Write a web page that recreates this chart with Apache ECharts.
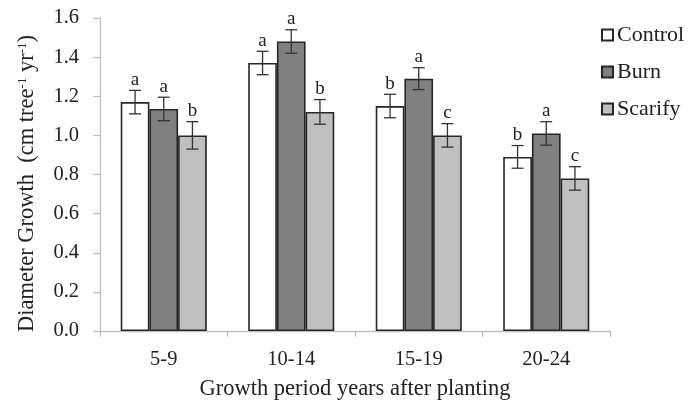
<!DOCTYPE html>
<html>
<head>
<meta charset="utf-8">
<script src="https://cdn.jsdelivr.net/npm/echarts@6/dist/echarts.min.js"></script>
<style>html,body{margin:0;padding:0;background:#fff;}#c{width:699px;height:402px;}</style>
</head>
<body>
<div id="c"></div>
<script>
const categories = ['5-9', '10-14', '15-19', '20-24'];
const treatments = ['Control', 'Burn', 'Scarify'];
const controlValues = [1.17, 1.37, 1.15, 0.89];
const burnValues = [1.135, 1.48, 1.29, 1.01];
const scarifyValues = [1.00, 1.12, 1.00, 0.78];
const controlErr = [0.06, 0.06, 0.06, 0.058];
const burnErr = [0.06, 0.06, 0.056, 0.06];
const scarifyErr = [0.07, 0.063, 0.06, 0.06];
const controlLetters = ['a', 'a', 'b', 'b'];
const burnLetters = ['a', 'a', 'a', 'a'];
const scarifyLetters = ['b', 'b', 'c', 'c'];
const yTicks = [0, 0.2, 0.4, 0.6, 0.8, 1.0, 1.2, 1.4, 1.6];

const values = [controlValues, burnValues, scarifyValues];
const errs = [controlErr, burnErr, scarifyErr];
const letters = [controlLetters, burnLetters, scarifyLetters];
const fills = ['#ffffff', '#808080', '#c0c0c0'];
const catGap = 0.325;
const font = '"Liberation Serif", "Times New Roman", serif';

const series = [];
treatments.forEach((name, k) => {
  series.push({
    name: name,
    type: 'bar',
    data: values[k],
    barGap: '0%',
    barCategoryGap: (catGap * 100) + '%',
    itemStyle: { color: fills[k], borderColor: '#262626', borderWidth: 1.6 },
    emphasis: { disabled: true },
    z: 2
  });
});
treatments.forEach((name, k) => {
  series.push({
    type: 'custom',
    name: name + '_err',
    data: values[k].map((v, i) => [i, v, errs[k][i]]),
    encode: { x: 0, y: 1 },
    z: 5,
    silent: true,
    renderItem: function (params, api) {
      const i = api.value(0), v = api.value(1), e = api.value(2);
      const band = api.size([1, 0])[0];
      const barW = band * (1 - catGap) / 3;
      const off = (k - 1) * barW;
      const top = api.coord([i, v + e]);
      const bot = api.coord([i, v - e]);
      const cx = top[0] + off;
      const cap = 6;
      const ls = { stroke: '#333', lineWidth: 1.3 };
      return {
        type: 'group',
        children: [
          { type: 'line', shape: { x1: cx, y1: top[1], x2: cx, y2: bot[1] }, style: ls },
          { type: 'line', shape: { x1: cx - cap, y1: top[1], x2: cx + cap, y2: top[1] }, style: ls },
          { type: 'line', shape: { x1: cx - cap, y1: bot[1], x2: cx + cap, y2: bot[1] }, style: ls },
          { type: 'text', x: cx, y: top[1] - 1,
            style: { text: letters[k][i], fill: '#222', font: '19px ' + font, textAlign: 'center', textVerticalAlign: 'bottom' } }
        ]
      };
    }
  });
});

const chart = echarts.init(document.getElementById('c'), null, { renderer: 'canvas' });
chart.setOption({
  animation: false,
  backgroundColor: '#fff',
  grid: { left: 100, right: 89, top: 18, bottom: 71, containLabel: false, outerBoundsMode: 'none' },
  legend: {
    data: treatments,
    orient: 'vertical',
    left: 596,
    top: 19,
    itemWidth: 11,
    itemHeight: 11,
    itemGap: 15,
    icon: 'rect',
    textStyle: { fontFamily: font, fontSize: 22, color: '#222', padding: [0, 0, 0, -1] },
    selectedMode: false
  },
  xAxis: {
    type: 'category',
    data: categories,
    name: 'Growth period years after planting',
    nameLocation: 'middle',
    nameGap: 47,
    nameTextStyle: { fontFamily: font, fontSize: 22.5, color: '#222' },
    axisLine: { lineStyle: { color: '#bfbfbf', width: 1.3 } },
    axisTick: { show: true, length: 6, lineStyle: { color: '#bfbfbf', width: 1.3 } },
    axisLabel: { fontFamily: font, fontSize: 20.5, color: '#222', margin: 18 }
  },
  yAxis: {
    type: 'value',
    min: 0,
    max: 1.6,
    interval: 0.2,
    name: 'Diameter Growth  (cm tree{s|-1} yr{s|-1})',
    nameLocation: 'middle',
    nameRotate: 90,
    nameGap: 61,
    nameTextStyle: {
      fontFamily: font, fontSize: 22.5, color: '#222', padding: [0, 18, 0, 0],
      rich: { s: { fontFamily: font, fontSize: 13, color: '#222', verticalAlign: 'top', padding: [0, 0, 9, 0] } }
    },
    splitLine: { show: false },
    axisLine: { show: true, lineStyle: { color: '#bfbfbf', width: 1.3 } },
    axisTick: { show: true, length: 7, lineStyle: { color: '#bfbfbf', width: 1.3 } },
    axisLabel: { fontFamily: font, fontSize: 20.5, color: '#222', margin: 21,
      formatter: v => yTicks.includes(Math.round(v * 10) / 10) ? v.toFixed(1) : '' }
  },
  series: series
});
</script>
</body>
</html>
